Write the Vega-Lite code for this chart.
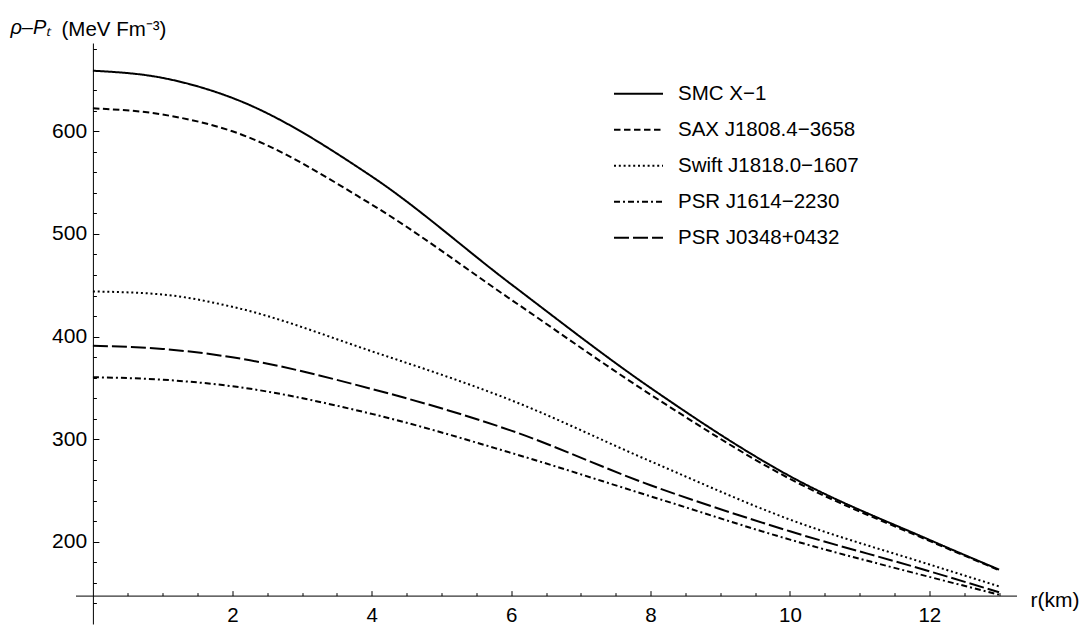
{
  "$schema": "https://vega.github.io/schema/vega-lite/v6.json",
  "width": 941,
  "height": 581,
  "autosize": {"type": "none"},
  "padding": {"left": 75.5, "top": 43, "right": 70.5, "bottom": 4},
  "background": "white",
  "config": {"view": {"stroke": null}, "font": "Liberation Sans"},
  "title": {"text": "(MeV Fm⁻³)", "anchor": "start", "frame": "group", "dx": -14, "dy": 23, "offset": -16, "baseline": "alphabetic", "fontSize": 20.5, "fontWeight": "normal", "color": "black", "font": "Liberation Sans"},
  "data": {"values": [
    {"r": 0, "v": 659, "s": "SMC X−1"},
    {"r": 1, "v": 652, "s": "SMC X−1"},
    {"r": 2, "v": 632.5, "s": "SMC X−1"},
    {"r": 4, "v": 556, "s": "SMC X−1"},
    {"r": 6, "v": 451, "s": "SMC X−1"},
    {"r": 8, "v": 350, "s": "SMC X−1"},
    {"r": 10, "v": 264, "s": "SMC X−1"},
    {"r": 12, "v": 202, "s": "SMC X−1"},
    {"r": 13, "v": 173, "s": "SMC X−1"},
    {"r": 0, "v": 622.4, "s": "SAX J1808.4−3658"},
    {"r": 1, "v": 616.3, "s": "SAX J1808.4−3658"},
    {"r": 2, "v": 600, "s": "SAX J1808.4−3658"},
    {"r": 4, "v": 528.6, "s": "SAX J1808.4−3658"},
    {"r": 6, "v": 436, "s": "SAX J1808.4−3658"},
    {"r": 8, "v": 343.5, "s": "SAX J1808.4−3658"},
    {"r": 10, "v": 261.4, "s": "SAX J1808.4−3658"},
    {"r": 12, "v": 201, "s": "SAX J1808.4−3658"},
    {"r": 13, "v": 172.5, "s": "SAX J1808.4−3658"},
    {"r": 0, "v": 444, "s": "Swift J1818.0−1607"},
    {"r": 1, "v": 441, "s": "Swift J1818.0−1607"},
    {"r": 2, "v": 429, "s": "Swift J1818.0−1607"},
    {"r": 4, "v": 385.7, "s": "Swift J1818.0−1607"},
    {"r": 6, "v": 338, "s": "Swift J1818.0−1607"},
    {"r": 8, "v": 278.5, "s": "Swift J1818.0−1607"},
    {"r": 10, "v": 221.7, "s": "Swift J1818.0−1607"},
    {"r": 12, "v": 178, "s": "Swift J1818.0−1607"},
    {"r": 13, "v": 156.7, "s": "Swift J1818.0−1607"},
    {"r": 0, "v": 360.4, "s": "PSR J1614−2230"},
    {"r": 1, "v": 358, "s": "PSR J1614−2230"},
    {"r": 2, "v": 351.6, "s": "PSR J1614−2230"},
    {"r": 4, "v": 324.7, "s": "PSR J1614−2230"},
    {"r": 6, "v": 286.7, "s": "PSR J1614−2230"},
    {"r": 8, "v": 244.4, "s": "PSR J1614−2230"},
    {"r": 10, "v": 202.2, "s": "PSR J1614−2230"},
    {"r": 12, "v": 165.9, "s": "PSR J1614−2230"},
    {"r": 13, "v": 148.6, "s": "PSR J1614−2230"},
    {"r": 0, "v": 391, "s": "PSR J0348+0432"},
    {"r": 1, "v": 388, "s": "PSR J0348+0432"},
    {"r": 2, "v": 379.8, "s": "PSR J0348+0432"},
    {"r": 4, "v": 349, "s": "PSR J0348+0432"},
    {"r": 6, "v": 308.4, "s": "PSR J0348+0432"},
    {"r": 8, "v": 255.2, "s": "PSR J0348+0432"},
    {"r": 10, "v": 210.3, "s": "PSR J0348+0432"},
    {"r": 12, "v": 171.4, "s": "PSR J0348+0432"},
    {"r": 13, "v": 150.9, "s": "PSR J0348+0432"}
  ]},
  "mark": {"type": "line", "interpolate": "monotone", "strokeWidth": 2, "color": "black"},
  "encoding": {
    "x": {
      "field": "r", "type": "quantitative",
      "scale": {"domain": [-0.25, 13.25], "nice": false, "zero": false},
      "axis": {
        "title": "r(km)", "offset": -28.4, "grid": false,
        "domainColor": "black", "domainWidth": 1, "tickColor": "black", "tickWidth": 1,
        "values": [0.5, 1, 1.5, 2, 2.5, 3, 3.5, 4, 4.5, 5, 5.5, 6, 6.5, 7, 7.5, 8, 8.5, 9, 9.5, 10, 10.5, 11, 11.5, 12, 12.5, 13],
        "tickSize": {"condition": {"test": "datum.value % 2 === 0", "value": -5}, "value": -3},
        "labelExpr": "datum.value % 2 === 0 ? format(datum.value, 'd') : ''",
        "labelFontSize": 20.5, "labelColor": "black", "labelPadding": 31, "labelBaseline": "alphabetic",
        "labelOverlap": false, "labelFlush": false,
        "titleFontSize": 21, "titleFontWeight": "normal", "titleColor": "black",
        "titleX": 954.5, "titleY": 11, "titleAlign": "left", "titleBaseline": "alphabetic", "titleAngle": 0
      }
    },
    "y": {
      "field": "v", "type": "quantitative",
      "scale": {"domain": [120, 686], "nice": false, "zero": false},
      "axis": {
        "title": "ρ–Pₜ", "offset": -17.4, "grid": false,
        "domainColor": "black", "domainWidth": 1, "tickColor": "black", "tickWidth": 1,
        "values": [140, 160, 180, 200, 220, 240, 260, 280, 300, 320, 340, 360, 380, 400, 420, 440, 460, 480, 500, 520, 540, 560, 580, 600, 620, 640, 660, 680],
        "tickSize": {"condition": {"test": "datum.value % 100 === 0", "value": -6}, "value": -3.5},
        "labelExpr": "datum.value % 100 === 0 ? format(datum.value, 'd') : ''",
        "labelFontSize": 21, "labelColor": "black", "labelPadding": 12.3,
        "labelOverlap": false, "labelFlush": false,
        "titleFontSize": 20, "titleFontWeight": "normal", "titleFontStyle": "italic", "titleColor": "black",
        "titleX": -83, "titleY": -10, "titleAlign": "left", "titleBaseline": "alphabetic", "titleAngle": 0
      }
    },
    "strokeDash": {
      "field": "s", "type": "nominal",
      "scale": {
        "domain": ["SMC X−1", "SAX J1808.4−3658", "Swift J1818.0−1607", "PSR J1614−2230", "PSR J0348+0432"],
        "range": [[1, 0], [6.5, 3.5], [2, 2.8], [6, 3, 2, 3], [15, 4]]
      },
      "legend": {
        "title": null, "orient": "none", "legendX": 537.5, "legendY": 33,
        "symbolType": "stroke", "symbolSize": 2400, "symbolStrokeWidth": 2, "symbolStrokeColor": "black",
        "clipHeight": 35.3, "rowPadding": 0, "labelOffset": 14,
        "labelFontSize": 20.5, "labelColor": "black", "labelLimit": 400
      }
    }
  }
}
